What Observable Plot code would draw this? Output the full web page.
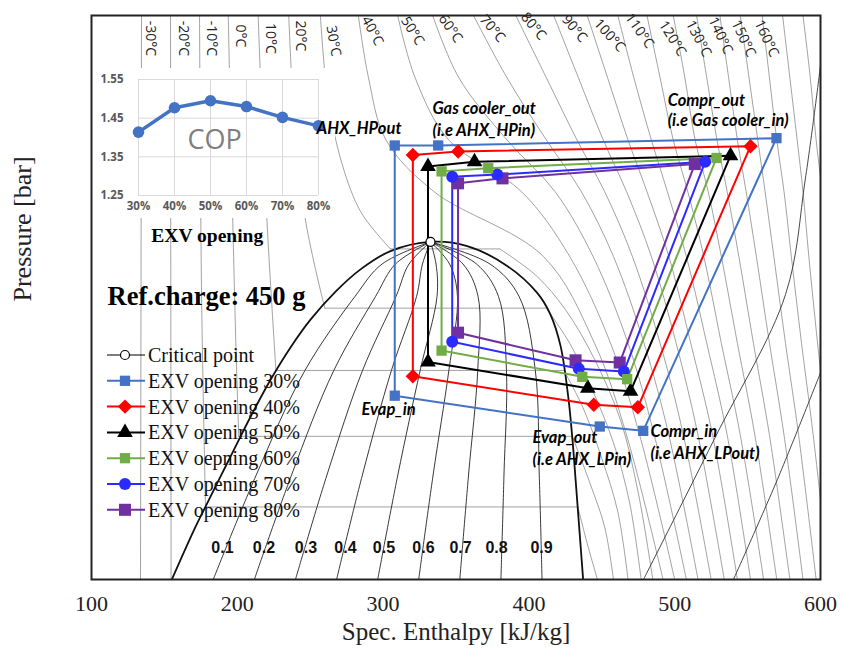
<!DOCTYPE html>
<html><head><meta charset="utf-8">
<script src="https://cdn.jsdelivr.net/npm/d3@7"></script>
<script src="https://cdn.jsdelivr.net/npm/@observablehq/plot@0.6"></script>
<style>
body{margin:0;background:#fff;}
#wrap{position:relative;width:841px;height:648px;overflow:hidden;background:#fff;}
#wrap > *{position:absolute;}
</style></head><body><div id="wrap"></div>
<script>
// ---------- axes ----------
const xTicks = [100, 200, 300, 400, 500, 600];
const yTickValues = [20, 24, 28.8, 34.56, 41.47, 49.77, 59.72, 71.66, 86, 103.2, 123.8, 148.6, 178.3];
const yTickLabels = [20, 24, 29, 35, 41, 50, 60, 72, 86, 103, 124, 149, 178];

// ---------- cycles (order: AHX_HPout, Evap_in, Evap_out, Compr_in, Compr_out, Gas cooler_out) ----------
const seriesNames = ["EXV opening 30%", "EXV opening 40%", "EXV opening 50%", "EXV oepning 60%", "EXV opening 70%", "EXV opening 80%"];
const h30 = [308.0, 308.0, 448.6, 478.4, 569.8, 337.8];
const p30 = [107.7, 40.8, 36.2, 35.6, 110.8, 107.7];
const h40 = [320.4, 320.4, 444.5, 474.7, 552.0, 351.5];
const p40 = [103.8, 44.0, 39.4, 39.0, 107.4, 105.2];
const h50 = [330.8, 330.8, 440.4, 469.7, 538.3, 362.7];
const p50 = [99.3, 46.5, 42.0, 41.5, 103.5, 101.1];
const h60 = [340.1, 340.1, 436.6, 467.4, 528.7, 372.1];
const p60 = [97.4, 48.6, 43.9, 43.5, 102.6, 98.6];
const h70 = [347.4, 347.4, 434.2, 465.1, 520.9, 378.3];
const p70 = [95.4, 50.3, 45.3, 44.8, 101.1, 96.2];
const h80 = [351.4, 351.4, 432.0, 462.3, 513.8, 381.9];
const p80 = [93.0, 52.1, 46.8, 46.4, 100.2, 94.8];
const criticalPoint = {h: 332.5, P: 74.1};

// ---------- inset COP ----------
const copCats = ["30%", "40%", "50%", "60%", "70%", "80%"];
const copValues = [1.414, 1.477, 1.495, 1.480, 1.452, 1.430];

// ---------- saturation dome ----------
const domeLiqH = [155.3, 170.2, 179.4, 195.3, 209.1, 222.8, 236.5, 250.2, 267.4, 284.5, 305.1, 332.5];
const domeLiqP = [20.05, 24.2, 26.9, 32.2, 37.6, 43.4, 49.2, 54.8, 61.1, 66.6, 71.5, 74.1];
const domeVapH = [332.5, 357.7, 385.1, 405.7, 414.8, 421.7, 427.2, 430.5, 433.6, 437.2];
const domeVapP = [74.1, 72.9, 67.5, 60.8, 55.9, 49.5, 40.2, 33.0, 26.2, 20.0];

// ---------- quality lines (h at pressures qualityP) ----------
const qualityNames = ["0.1", "0.2", "0.3", "0.4", "0.5", "0.6", "0.7", "0.8", "0.9"];
const qualityP = [20, 30, 45, 60, 68, 74.1];
const qualityH = [
  [183.5, 213.0, 246.4, 280.8, 299.3, 332.5],
  [211.7, 237.2, 266.2, 294.9, 308.5, 332.5],
  [239.9, 261.5, 285.9, 308.9, 317.8, 332.5],
  [268.1, 285.8, 305.7, 323.0, 327.0, 332.5],
  [296.3, 310.1, 325.4, 337.0, 336.3, 332.5],
  [324.4, 334.3, 345.1, 351.0, 345.6, 332.5],
  [352.6, 358.6, 364.9, 365.1, 354.8, 332.5],
  [380.8, 382.9, 384.6, 379.1, 364.1, 332.5],
  [409.0, 407.1, 404.4, 393.2, 373.3, 332.5]
];

// ---------- isotherms ----------
const isoSub = [
  {T: -30, segs: [[[134.3, 178.3], [133.6, 20]]]},
  {T: -20, segs: [[[154.2, 178.3], [154.6, 20]]]},
  {T: -10, segs: [[[174.1, 178.3], [175.5, 60], [178.2, 26.5]], [[178.2, 26.5], [433.6, 26.5]], [[433.6, 26.5], [440, 23], [447, 20]]]},
  {T: 0, segs: [[[193.8, 178.3], [196, 100], [199, 50], [201, 34.85]], [[201, 34.85], [429.8, 34.85]], [[429.8, 34.85], [442, 29], [452, 24.5], [458, 20]]]},
  {T: 10, segs: [[[214.3, 178.3], [217, 120], [221, 75], [226.5, 45]], [[226.5, 45], [424, 45]], [[424, 45], [437, 39], [450, 32], [461, 26], [468, 20]]]},
  {T: 20, segs: [[[235.3, 178.3], [239, 120], [247, 80], [260, 57.3]], [[260, 57.3], [412, 57.3]], [[412, 57.3], [428, 50], [443, 42], [458, 34], [469, 27], [477, 20]]]},
  {T: 30, segs: [[[257, 178.3], [262, 130], [272, 100], [285, 83], [305, 72.1]], [[305, 72.1], [380, 72.1]], [[380, 72.1], [405, 65], [425, 57], [445, 47], [463, 37], [475, 28], [485, 20]]]}
];
const isoP = [178.3, 140, 110, 90, 70, 50, 35, 20];
const isoSuperT = [40, 50, 60, 70, 80, 90, 100, 110, 120, 130, 140, 150, 160, 170, 180, 190];
const isoSuperH = [
  [283, 290, 302, 335, 410, 445, 467, 492],
  [310, 322, 345, 395, 428, 456, 476, 500],
  [334, 352, 385, 418, 444, 468, 486, 508],
  [362, 385, 412, 436, 458, 479, 496, 516],
  [391, 412, 433, 452, 471, 490, 506, 525],
  [417, 434, 451, 467, 484, 501, 516, 534],
  [440, 454, 468, 481, 496, 511, 526, 543],
  [461, 472, 484, 495, 508, 522, 536, 552],
  [481, 490, 499, 509, 520, 532, 545, 561],
  [499, 507, 514, 523, 532, 543, 555, 570],
  [515, 522, 529, 536, 544, 554, 565, 579],
  [531, 537, 543, 549, 556, 565, 575, 588],
  [545, 551, 557, 562, 568, 576, 585, 597],
  [560, 565, 570, 575, 580, 587, 595, 606],
  [574, 579, 584, 588, 592, 598, 605, 615],
  [588, 593, 597, 601, 604, 609, 615, 624]
];
// dark lines in the vapour region
const isentropes = [
  [[478.6, 20], [528.0, 34.8], [576.0, 60.4], [589.6, 94.6], [600, 146.8]],
  [[540.3, 20], [570.5, 29.5], [600, 44.6]]
];

// ---------- labels ----------
const isoLabelText = ["-30°C","-20°C","-10°C","0°C","10°C","20°C","30°C","40°C","50°C","60°C","70°C","80°C","90°C","100°C","110°C","120°C","130°C","140°C","150°C","160°C"];
const isoLabelH = [140.5,163.1,182.3,202.2,222.8,243.3,266,292.7,320.2,346.2,375,403.2,431.3,455.3,475.9,498.5,516.3,531.4,547.2,563];
const isoLabelP = [163.1,163.1,163.1,164.7,163.1,164.7,161.5,168,168,169.5,169.5,171,169.5,165,168,163.1,163.1,165,163.1,163.1];
const isoLabelRot = [90,90,90,90,90,90,80,62,58,55,50,50,50,48,55,58,62,65,65,65];
const qualityLabelH = [189.8, 218.3, 247.1, 274.2, 300.6, 327.7, 353.1, 377.8, 408.7];
const qualityLabelP = 22.65;

const notes = [
  {t: "AHX_HPout", h: 254.3, P: 114.9},
  {t: "Gas cooler_out", h: 333.9, P: 124.2},
  {t: "(i.e AHX_HPin)", h: 333.9, P: 114.0},
  {t: "Compr_out", h: 495.2, P: 128.1},
  {t: "(i.e Gas cooler_in)", h: 495.2, P: 118.5},
  {t: "Evap_in", h: 285.2, P: 38.6},
  {t: "Evap_out", h: 402.5, P: 34.6},
  {t: "(i.e AHX_LPin)", h: 402.5, P: 31.8},
  {t: "Compr_in", h: 483.4, P: 35.5},
  {t: "(i.e AHX_LPout)", h: 483.4, P: 32.6}
];

// ---------- styles ----------
const colors = ["#4472C4", "#FF0000", "#000000", "#70AD47", "#2B2BFF", "#7030A0"];
const symbols = ["square", "diamond2", "triangle", "square", "circle", "square"];
const symR = [5.8, 6.5, 5.8, 5.8, 6.0, 6.8];

// ---------- build tables ----------
const H = [h30, h40, h50, h60, h70, h80], P = [p30, p40, p50, p60, p70, p80];
const cycleRows = [], pointRows = [];
seriesNames.forEach((s, i) => {
  [0, 1, 2, 3, 4, 5, 0].forEach((j, k) => cycleRows.push({s, i, k, h: H[i][j], P: P[i][j]}));
  H[i].forEach((h, j) => pointRows.push({s, i, h, P: P[i][j]}));
});
const domeRows = [
  ...domeLiqH.map((h, i) => ({h, P: domeLiqP[i]})),
  ...domeVapH.slice(1).map((h, i) => ({h, P: domeVapP[i + 1]}))
];
const qualityRows = [];
qualityH.forEach((arr, q) => arr.forEach((h, i) => qualityRows.push({q, h, P: qualityP[i]})));
const isoRows = [];
isoSub.forEach(o => o.segs.forEach((seg, si) => seg.forEach(([h, p]) => isoRows.push({id: o.T + "_" + si, h, P: p}))));
isoSuperT.forEach((T, t) => isoSuperH[t].forEach((h, i) => isoRows.push({id: T + "_s", h, P: isoP[i]})));
const isenRows = [];
isentropes.forEach((line, k) => line.forEach(([h, p]) => isenRows.push({k, h, P: p})));

const W = 841, Ht = 648, mL = 91, mR = 21, mT = 15, mB = 69;
const common = {
  width: W, height: Ht, marginLeft: mL, marginRight: mR, marginTop: mT, marginBottom: mB,
  x: {domain: [100, 600]},
  y: {type: "log", domain: [20, 178.3]}
};

const main = Plot.plot({
  ...common,
  style: {fontFamily: "Liberation Serif", fontSize: "22px", color: "#222", background: "#fff"},
  x: {...common.x, label: null},
  y: {...common.y, label: null},
  r: {type: "identity"},
  marks: [
    Plot.line(isoRows, {x: "h", y: "P", z: "id", stroke: "#8a8a8a", strokeWidth: 0.8, curve: "catmull-rom", clip: true}),
    Plot.line(isenRows, {x: "h", y: "P", z: "k", stroke: "#333", strokeWidth: 0.9, curve: "catmull-rom", clip: true}),
    Plot.line(qualityRows, {x: "h", y: "P", z: "q", stroke: "#222", strokeWidth: 0.9, curve: "catmull-rom", clip: true}),
    Plot.line(domeRows, {x: "h", y: "P", stroke: "#111", strokeWidth: 1.8, curve: "catmull-rom", clip: true}),
    Plot.text(isoLabelText, {x: (d, i) => isoLabelH[i], y: (d, i) => isoLabelP[i], text: d => d, rotate: (d, i) => isoLabelRot[i], fontFamily: "Open Sans", fontSize: 14, fill: "#222"}),
    Plot.text(qualityNames, {x: (d, i) => qualityLabelH[i], y: () => qualityLabelP, text: d => d, fontFamily: "Liberation Sans", fontWeight: "bold", fontSize: 16, fill: "#111"}),
    Plot.text(["Ref.charge: 450 g"], {x: () => 111, y: () => 60, text: d => d, textAnchor: "start", fontFamily: "Liberation Serif", fontWeight: "bold", fontSize: 26.5, fill: "#000"}),
    Plot.text(["EXV opening"], {x: () => 179.4, y: () => 75.8, text: d => d, fontFamily: "Liberation Serif", fontWeight: "bold", fontSize: 19.5, fill: "#000"}),
    Plot.line(cycleRows, {x: "h", y: "P", z: "s", stroke: d => colors[d.i], strokeWidth: 2}),
    Plot.dot(pointRows, {x: "h", y: "P", symbol: d => symbols[d.i], fill: d => colors[d.i], r: d => symR[d.i], stroke: "none"}),
    Plot.dot([criticalPoint], {x: "h", y: "P", r: 4.5, fill: "#fff", stroke: "#000", strokeWidth: 1.2}),
    Plot.frame({stroke: "#222", strokeWidth: 2}),
    Plot.axisX({ticks: xTicks, tickSize: 0, tickPadding: 16, label: null, fontSize: 22}),
    Plot.axisY({ticks: yTickValues, tickFormat: (d, i) => yTickLabels[i], tickSize: 0, tickPadding: 15, label: null, fontSize: 22}),
    Plot.text(["Spec. Enthalpy [kJ/kg]"], {frameAnchor: "bottom", dy: 60, text: d => d, fontFamily: "Liberation Serif", fontSize: 25, fill: "#222"}),
    Plot.text(["Pressure [bar]"], {frameAnchor: "left", dx: -69, dy: 4, rotate: -90, text: d => d, fontFamily: "Liberation Serif", fontSize: 26, fill: "#222"})
  ]
});
main.style.left = "0px"; main.style.top = "0px";
document.getElementById("wrap").appendChild(main);

// inset
const inset = Plot.plot({
  width: 240, height: 150, marginLeft: 43, marginRight: 17, marginTop: 11, marginBottom: 23,
  style: {background: "#fff", fontFamily: "Open Sans", fontSize: "11.5px", color: "#595959", fontWeight: "bold"},
  x: {type: "point", domain: copCats, padding: 0, label: null},
  y: {domain: [1.25, 1.55], label: null},
  marks: [
    Plot.gridX({stroke: "#d9d9d9", strokeOpacity: 1}),
    Plot.gridY([1.25, 1.35, 1.45, 1.55], {stroke: "#d9d9d9", strokeOpacity: 1}),
    Plot.axisX({tickSize: 0, tickPadding: 6}),
    Plot.axisY([1.25, 1.35, 1.45, 1.55], {tickSize: 0, tickPadding: 15, tickFormat: d => d.toFixed(2)}),
    Plot.text(["COP"], {frameAnchor: "middle", dx: -14, dy: 3, text: d => d, fontFamily: "Open Sans", fontWeight: "normal", fontSize: 27, fill: "#7f7f7f"}),
    Plot.line(copCats.map((c, i) => ({c, v: copValues[i]})), {x: "c", y: "v", stroke: "#4472C4", strokeWidth: 3.5}),
    Plot.dot(copCats.map((c, i) => ({c, v: copValues[i]})), {x: "c", y: "v", r: 5.8, fill: "#4472C4"})
  ]
});
inset.style.left = "95px"; inset.style.top = "68px";
document.getElementById("wrap").appendChild(inset);

// overlay with annotations (same scales)
const overlay = Plot.plot({
  ...common,
  style: {background: "transparent"},
  x: {...common.x, axis: null},
  y: {...common.y, axis: null},
  marks: [
    Plot.text(notes, {x: "h", y: "P", text: "t", textAnchor: "start", fontFamily: "Lato", fontWeight: "bold", fontStyle: "italic", fontSize: 16.5, fill: "#000"})
  ]
});
overlay.style.left = "0px"; overlay.style.top = "0px";
document.getElementById("wrap").appendChild(overlay);

// legend
const legItems = [{name: "Critical point", color: "#000", sym: "critical"}].concat(
  seriesNames.map((s, i) => ({name: s, color: colors[i], sym: symbols[i], r: symR[i]})));
const leg = d3.create("svg").attr("width", 230).attr("height", 180)
  .style("left", "100px").style("top", "342px").style("overflow", "visible");
const symMap = {square: d3.symbolSquare, diamond2: d3.symbolDiamond2, triangle: d3.symbolTriangle, circle: d3.symbolCircle};
legItems.forEach((it, i) => {
  const g = leg.append("g").attr("transform", `translate(0,${13 + i * 25.8})`);
  g.append("line").attr("x1", 7).attr("x2", 45).attr("stroke", it.color).attr("stroke-width", it.sym === "critical" ? 1.2 : 2);
  if (it.sym === "critical") {
    g.append("circle").attr("cx", 25).attr("r", 4.5).attr("fill", "#fff").attr("stroke", "#000").attr("stroke-width", 1.2);
  } else {
    g.append("path").attr("transform", "translate(25,0)").attr("d", d3.symbol(symMap[it.sym], Math.PI * it.r * it.r)()).attr("fill", it.color);
  }
  g.append("text").attr("x", 48).attr("dy", "0.35em").attr("font-family", "Liberation Serif").attr("font-size", 20).attr("fill", "#111").text(it.name);
});
document.getElementById("wrap").appendChild(leg.node());
</script></body></html>
